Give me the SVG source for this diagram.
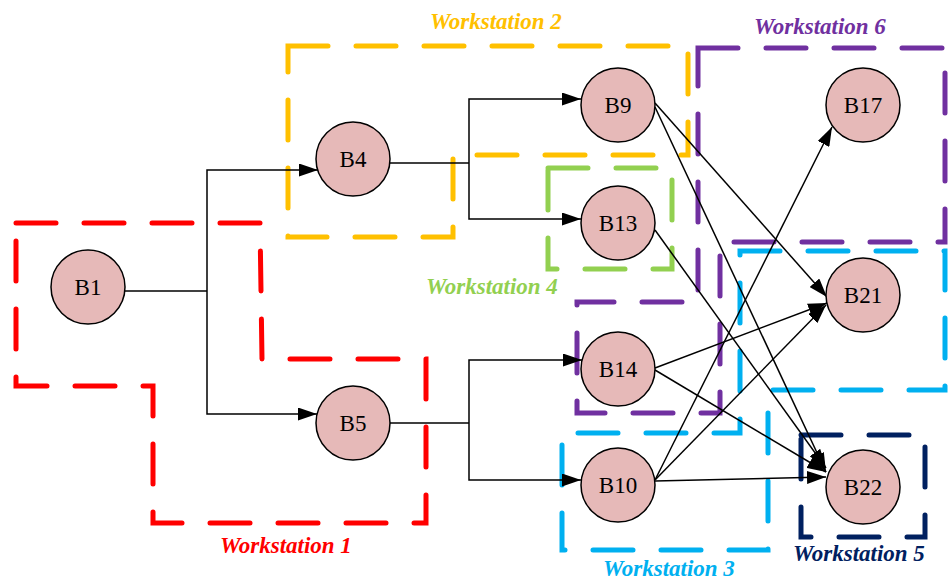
<svg xmlns="http://www.w3.org/2000/svg" width="948" height="585" viewBox="0 0 948 585">
  <style>
    .ws { fill: none; stroke-width: 5; stroke-linecap: round; stroke-linejoin: miter; stroke-dasharray: 40 28; }
    .ws-label { font-family: "Liberation Serif", "Times New Roman", serif; font-size: 23px; font-weight: bold; font-style: italic; }
    .node circle { fill: #E6B9B8; stroke: #000; stroke-width: 1.5; }
    .node text { font-family: "Liberation Serif", "Times New Roman", serif; font-size: 23px; fill: #000; text-anchor: middle; }
    .edge { fill: none; stroke: #000; stroke-width: 1.5; }
    .arrow { marker-end: url(#head); }
  </style>
  <defs>
    <marker id="head" markerUnits="userSpaceOnUse" markerWidth="19" markerHeight="13" refX="19" refY="6.5" orient="auto">
      <path d="M0,0 L19,6.5 L0,13 Z" fill="#000"/>
    </marker>
  </defs>
  <rect width="948" height="585" fill="#fff"/>

  <!-- workstation regions -->
  <g id="workstations">
    <g id="ws1">
      <polygon class="ws" stroke="#FF0000" points="16,223 260,223 262,359 426,359 426,523 153,523 153,386 16,386"/>
      <text class="ws-label" fill="#FF0000" x="220" y="553">Workstation 1</text>
    </g>
    <g id="ws2">
      <polygon class="ws" stroke="#FFC000" points="288,46 688,46 688,155 453,155 453,237 288,237"/>
      <text class="ws-label" fill="#FFC000" x="430" y="29">Workstation 2</text>
    </g>
    <g id="ws4">
      <rect class="ws" stroke="#92D050" x="548" y="168" width="124" height="101"/>
      <text class="ws-label" fill="#92D050" x="426" y="294">Workstation 4</text>
    </g>
    <g id="ws6">
      <polygon class="ws" stroke="#7030A0" points="698,48 945,48 945,242 720,242 720,413 577,413 577,302 698,302"/>
      <text class="ws-label" fill="#7030A0" x="754" y="34">Workstation 6</text>
    </g>
    <g id="ws3">
      <polygon class="ws" stroke="#00B0F0" points="740,251 945,251 945,390 768,390 768,550 562,550 562,433 740,433"/>
      <text class="ws-label" fill="#00B0F0" x="603" y="576">Workstation 3</text>
    </g>
    <g id="ws5">
      <rect class="ws" stroke="#002060" x="801" y="435" width="124" height="102"/>
      <text class="ws-label" fill="#002060" x="793" y="561">Workstation 5</text>
    </g>
  </g>

  <!-- connectors -->
  <g id="connectors">
    <polyline class="edge" points="125,291 207,291"/>
    <polyline class="edge arrow" points="207,291 207,170 318,170"/>
    <polyline class="edge arrow" points="207,291 207,414 317,414"/>

    <polyline class="edge" points="390,163 469,163"/>
    <polyline class="edge arrow" points="469,163 469,99 581,99"/>
    <polyline class="edge arrow" points="469,163 469,219 581,219"/>

    <polyline class="edge" points="390,423 469,423"/>
    <polyline class="edge arrow" points="469,423 469,360 582,360"/>
    <polyline class="edge arrow" points="469,423 469,480 581,480"/>

    <line class="edge arrow" x1="655" y1="103" x2="827" y2="297"/>
    <line class="edge arrow" x1="655" y1="107" x2="826" y2="472"/>
    <line class="edge arrow" x1="655" y1="230" x2="826" y2="468"/>
    <line class="edge arrow" x1="655" y1="368" x2="827" y2="303"/>
    <line class="edge arrow" x1="655" y1="370" x2="826" y2="472"/>
    <line class="edge arrow" x1="655" y1="480" x2="832" y2="127"/>
    <line class="edge arrow" x1="655" y1="480" x2="826" y2="305"/>
    <line class="edge arrow" x1="655" y1="481" x2="826" y2="477"/>
  </g>

  <!-- nodes -->
  <g id="B1" class="node"><circle cx="88" cy="287" r="37"/><text x="88" y="295">B1</text></g>
  <g id="B4" class="node"><circle cx="353" cy="159" r="37"/><text x="353" y="167">B4</text></g>
  <g id="B5" class="node"><circle cx="353" cy="423" r="37"/><text x="353" y="431">B5</text></g>
  <g id="B9" class="node"><circle cx="618" cy="105" r="37"/><text x="618" y="113">B9</text></g>
  <g id="B13" class="node"><circle cx="618" cy="223" r="37"/><text x="618" y="231">B13</text></g>
  <g id="B14" class="node"><circle cx="618" cy="369" r="37"/><text x="618" y="377">B14</text></g>
  <g id="B10" class="node"><circle cx="618" cy="485" r="37"/><text x="618" y="493">B10</text></g>
  <g id="B17" class="node"><circle cx="863" cy="105" r="37"/><text x="863" y="113">B17</text></g>
  <g id="B21" class="node"><circle cx="863" cy="295" r="37"/><text x="863" y="303">B21</text></g>
  <g id="B22" class="node"><circle cx="863" cy="487" r="37"/><text x="863" y="495">B22</text></g>
</svg>
